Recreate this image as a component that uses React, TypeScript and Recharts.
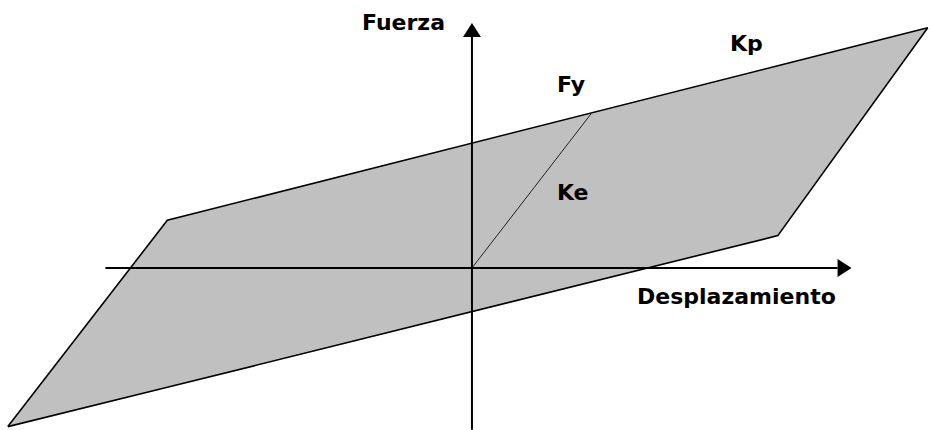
import {
  ComposedChart,
  Area,
  Line,
  XAxis,
  YAxis,
  ReferenceLine,
  ReferenceDot,
} from 'recharts';

// hysteresis loop, read as a band: lower / upper force at each displacement stop
const loopDisp = [-3.9, -2.56, 2.57, 3.83];
const loopLower = [-1.03, -0.775, 0.21, 1.56];
const loopUpper = [-1.03, 0.31, 1.313, 1.56];

// elastic branch (Ke) from origin to yield point Fy
const keDisp = [0, 1];
const keForce = [0, 1];

// axis extents (arrow tip is the second point)
const xAxisSpan = [-3.08, 3.19];
const yAxisSpan = [-1.05, 1.59];

const labels = [
  { text: 'Fuerza', d: -0.924, f: 1.545 },
  { text: 'Desplazamiento', d: 1.387, f: -0.234 },
  { text: 'Fy', d: 0.714, f: 1.143 },
  { text: 'Ke', d: 0.714, f: 0.442 },
  { text: 'Kp', d: 2.168, f: 1.409 },
];

const loopData = loopDisp.map((d, i) => ({ d, band: [loopLower[i], loopUpper[i]] }));
const keData = keDisp.map((d, i) => ({ d, f: keForce[i] }));

const FONT = '"DejaVu Sans", Verdana, sans-serif';

// eslint-disable-next-line @typescript-eslint/no-explicit-any
const ArrowLine = (p: any) => {
  const { x1, y1, x2, y2 } = p;
  const ang = Math.atan2(y2 - y1, x2 - x1);
  const len = 14;
  const half = 9;
  const c = Math.cos(ang);
  const s = Math.sin(ang);
  const bx = x2 - len * c;
  const by = y2 - len * s;
  const pts = `${x2},${y2} ${bx - half * s},${by + half * c} ${bx + half * s},${by - half * c}`;
  return (
    <g>
      <line x1={x1} y1={y1} x2={bx} y2={by} stroke="#000" strokeWidth={2} />
      <polygon points={pts} fill="#000" />
    </g>
  );
};

export default function App() {
  return (
    <div style={{ position: 'fixed', left: 0, top: 0, width: 930, height: 430, background: '#fff' }}>
      <ComposedChart width={930} height={430} data={loopData} margin={{ top: 0, right: 0, bottom: 0, left: 0 }}>
        <XAxis dataKey="d" type="number" domain={[-3.966, 3.849]} allowDataOverflow hide />
        <YAxis type="number" domain={[-1.052, 1.74]} allowDataOverflow hide />
        <Area
          type="linear"
          dataKey="band"
          fill="#c0c0c0"
          fillOpacity={1}
          stroke="#000"
          strokeWidth={1.6}
          dot={false}
          activeDot={false}
          isAnimationActive={false}
        />
        <Line
          data={keData}
          type="linear"
          dataKey="f"
          stroke="#222"
          strokeWidth={1}
          dot={false}
          activeDot={false}
          isAnimationActive={false}
        />
        <ReferenceLine
          segment={[{ x: xAxisSpan[0], y: 0 }, { x: xAxisSpan[1], y: 0 }]}
          ifOverflow="visible"
          shape={ArrowLine}
        />
        <ReferenceLine
          segment={[{ x: 0, y: yAxisSpan[0] }, { x: 0, y: yAxisSpan[1] }]}
          ifOverflow="visible"
          shape={ArrowLine}
        />
        {labels.map((l) => (
          <ReferenceDot
            key={l.text}
            x={l.d}
            y={l.f}
            ifOverflow="visible"
            // eslint-disable-next-line @typescript-eslint/no-explicit-any
            shape={(p: any) => (
              <text x={p.cx} y={p.cy} fontFamily={FONT} fontWeight="bold" fontSize={22} fill="#000">
                {l.text}
              </text>
            )}
          />
        ))}
      </ComposedChart>
    </div>
  );
}
